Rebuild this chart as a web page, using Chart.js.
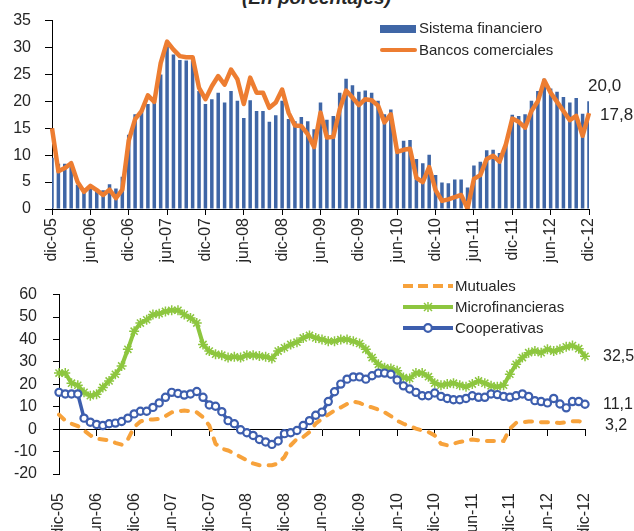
<!DOCTYPE html>
<html>
<head>
<meta charset="utf-8">
<script src="https://cdn.jsdelivr.net/npm/chart.js@4.4.1/dist/chart.umd.min.js"></script>
<style>
  body { margin: 0; background: #fff; width: 634px; height: 531px; overflow: hidden; position: relative;
         font-family: "Liberation Sans", Arial, sans-serif; color: #262626; }
  .chartbox { position: absolute; left: 0; width: 634px; }
  .t { position: absolute; white-space: nowrap; font-size: 15px; line-height: 16px; }
  .v { position: absolute; white-space: nowrap; font-size: 16px; line-height: 16px; }
  .sym { position: absolute; }
</style>
</head>
<body>
<div class="t" style="left:242px;top:-12px;font-size:19px;line-height:19px;font-weight:bold;font-style:italic;">(En porcentajes)</div>

<div class="chartbox" style="top:-3px;height:283px;"><canvas id="chartTop" width="634" height="283"></canvas></div>
<div class="chartbox" style="top:269px;height:262px;"><canvas id="chartBottom" width="634" height="262"></canvas></div>

<!-- leyenda superior -->
<div class="sym" style="left:380px;top:25px;width:36px;height:8px;background:#3F66A6;"></div>
<div class="t" style="left:419px;top:20px;">Sistema financiero</div>
<div class="sym" style="left:380px;top:48px;width:37px;height:4px;background:#ED7D31;border-radius:2px;"></div>
<div class="t" style="left:419px;top:42px;">Bancos comerciales</div>
<div class="v" style="left:588px;top:78px;font-size:17px;">20,0</div>
<div class="v" style="left:600px;top:107px;font-size:17px;">17,8</div>

<!-- leyenda inferior -->
<svg class="sym" style="left:401px;top:280px;" width="54" height="12">
  <line x1="2" y1="6" x2="52" y2="6" stroke="#F7A23B" stroke-width="4" stroke-dasharray="10 5"/>
</svg>
<div class="t" style="left:455px;top:278px;">Mutuales</div>
<svg class="sym" style="left:401px;top:301px;" width="54" height="12">
  <line x1="2" y1="6" x2="52" y2="6" stroke="#8DC63F" stroke-width="4"/>
  <path d="M23 2 L31 10 M31 2 L23 10 M27 1 L27 11" stroke="#8DC63F" stroke-width="1.5"/>
</svg>
<div class="t" style="left:455px;top:299px;">Microfinancieras</div>
<svg class="sym" style="left:401px;top:322px;" width="54" height="12">
  <line x1="2" y1="6" x2="52" y2="6" stroke="#3D5EAE" stroke-width="4"/>
  <circle cx="27" cy="6" r="3.8" fill="#fff" stroke="#3D5EAE" stroke-width="2.2"/>
</svg>
<div class="t" style="left:455px;top:320px;">Cooperativas</div>
<div class="v" style="left:603px;top:348px;">32,5</div>
<div class="v" style="left:603px;top:396px;">11,1</div>
<div class="v" style="left:605px;top:417px;">3,2</div>

<script>
const meses = ['ene', 'feb', 'mar', 'abr', 'may', 'jun', 'jul', 'ago', 'sep', 'oct', 'nov', 'dic'];
const categorias = [];
for (let i = 0; i < 85; i++) {
    const m = (11 + i) % 12;
    const a = 5 + Math.floor((11 + i) / 12);
    categorias.push(meses[m] + '-' + String(a).padStart(2, '0'));
}

// Panel superior (en %)
const sistemaFinanciero = [9.5, 8.4, 8.4, 8.8, 4.5, 3.5, 4.2, 3.6, 3.5, 4.6, 3.8, 6.0,
    13.8, 17.6, 18.2, 19.5, 20.1, 25.0, 30.2, 28.7, 27.7, 27.6, 27.6, 21.9,
    19.5, 20.4, 21.6, 19.8, 21.9, 20.1, 16.9, 20.2, 18.2, 18.2, 16.2, 17.4,
    20.1, 16.7, 16.3, 17.1, 16.3, 14.8, 19.8, 16.6, 17.3, 21.6, 24.2, 23.0,
    21.8, 22.0, 21.6, 20.1, 17.6, 18.5, 10.9, 12.7, 12.8, 9.3, 8.5, 10.1,
    6.3, 4.9, 4.8, 5.5, 5.5, 4.0, 8.1, 8.8, 10.9, 11.0, 10.4, 12.0,
    17.5, 17.3, 17.6, 20.1, 21.9, 24.2, 22.4, 21.8, 20.8, 19.8, 20.6, 17.7, 20.0];
const bancosComerciales = [15.0, 7.0, 7.6, 8.5, 5.0, 3.2, 4.3, 3.5, 2.6, 3.6, 2.0, 3.6,
    12.7, 16.7, 18.2, 21.1, 19.9, 27.1, 31.1, 29.6, 28.4, 28.2, 28.2, 22.5,
    20.4, 22.8, 24.7, 23.1, 25.9, 24.1, 19.5, 24.4, 21.6, 21.6, 18.8, 19.8,
    22.2, 17.9, 15.5, 15.4, 13.9, 11.5, 17.9, 13.3, 13.4, 18.5, 22.0, 20.7,
    19.3, 20.4, 20.2, 19.2, 16.1, 17.6, 10.6, 11.0, 11.2, 5.8, 5.0, 7.8,
    3.5, 1.5, 1.8, 2.2, 2.6, 0.1, 5.6, 6.3, 9.3, 9.9, 8.8, 12.0,
    16.8, 16.2, 15.1, 18.2, 20.0, 23.9, 21.6, 19.9, 18.2, 16.5, 17.3, 13.6, 17.8];

// Panel inferior (en %)
const mutuales = [6.5, 3.8, 2.4, 1.4, -0.6, -2.8, -4.3, -4.6, -5.0, -6.1, -6.9, -4.6,
    0.9, 3.4, 4.3, 4.3, 4.6, 5.8, 7.5, 8.0, 8.3, 8.0, 7.5, 5.3,
    1.6, -6.5, -8.7, -9.5, -10.9, -12.4, -13.9, -15.3, -16.1, -16.1, -16.1, -15.3,
    -12.4, -7.2, -4.3, -3.5, -1.3, 2.5, 4.6, 6.5, 8.3, 9.7, 11.2, 12.3,
    11.7, 10.5, 9.7, 8.7, 7.5, 5.8, 3.8, 2.4, 1.4, 0.2, -0.6, -1.3,
    -2.8, -6.5, -7.2, -6.5, -5.7, -5.3, -4.6, -5.0, -5.3, -5.3, -5.3, -5.3,
    0.2, 2.8, 3.1, 3.4, 3.4, 3.1, 3.1, 3.1, 2.7, 3.1, 3.5, 3.5, 3.2];
const microfinancieras = [25.0, 25.0, 20.5, 19.6, 16.4, 14.9, 15.6, 18.6, 21.5, 24.5, 28.2, 35.6,
    43.7, 47.3, 48.8, 51.1, 51.5, 52.5, 53.0, 53.0, 51.1, 49.6, 47.3, 37.8,
    34.8, 33.4, 33.0, 31.9, 32.3, 31.9, 33.0, 33.0, 32.6, 32.3, 31.5, 34.8,
    36.3, 37.8, 38.8, 40.7, 41.8, 40.7, 40.0, 39.2, 39.2, 40.0, 40.0, 39.2,
    38.2, 35.6, 31.9, 28.9, 27.4, 27.0, 26.0, 23.0, 22.6, 25.0, 25.0, 23.4,
    20.5, 19.6, 20.1, 20.5, 19.6, 18.9, 20.1, 21.5, 20.5, 19.3, 18.9, 19.6,
    24.5, 28.9, 31.9, 34.1, 34.8, 34.1, 35.6, 34.8, 35.6, 36.7, 37.3, 35.9, 32.5];
const cooperativas = [16.4, 15.7, 15.7, 15.7, 4.9, 3.1, 2.1, 1.6, 2.4, 2.7, 3.4, 4.9,
    6.8, 8.0, 8.0, 9.7, 11.7, 14.2, 16.4, 15.9, 15.2, 15.7, 16.8, 14.2,
    10.8, 10.2, 7.8, 3.8, 2.4, -0.3, -1.6, -2.8, -4.6, -5.7, -6.8, -5.3,
    -2.0, -1.6, -0.6, 1.6, 3.8, 6.2, 7.6, 12.3, 16.7, 20.1, 22.3, 23.3,
    23.3, 22.3, 23.8, 25.0, 25.0, 24.5, 21.9, 19.3, 17.9, 16.4, 14.9, 14.9,
    16.1, 14.6, 13.7, 13.1, 13.1, 13.7, 14.9, 14.2, 14.2, 15.7, 15.4, 14.6,
    14.2, 14.9, 15.7, 14.6, 12.7, 12.3, 11.7, 13.7, 11.2, 9.5, 12.3, 12.3, 11.1];

const tickFont = { family: "'Liberation Sans', Arial, sans-serif", size: 16 };
const tickColor = '#262626';
const semestral = c => (c.index % 6 === 0 ? '#000' : 'rgba(0,0,0,0)');
const etiquetaSemestral = (v, i) => (i % 6 === 0 ? categorias[i] : '');

new Chart(document.getElementById('chartTop'), {
    type: 'bar',
    data: {
        labels: categorias,
        datasets: [
            {
                type: 'line',
                label: 'Bancos comerciales',
                data: bancosComerciales,
                borderColor: '#ED7D31',
                borderWidth: 4.5,
                borderJoinStyle: 'round',
                pointRadius: 0,
                tension: 0,
                order: 1
            },
            {
                type: 'bar',
                label: 'Sistema financiero',
                data: sistemaFinanciero,
                backgroundColor: '#3F66A6',
                barPercentage: 0.55,
                categoryPercentage: 1,
                order: 2
            }
        ]
    },
    options: {
        responsive: false,
        animation: false,
        layout: { padding: { top: 16, right: 45, left: 0, bottom: 0 } },
        plugins: { legend: { display: false }, tooltip: { enabled: false } },
        scales: {
            x: {
                offset: false,
                grid: { offset: false, drawOnChartArea: false, tickLength: 6, tickColor: semestral },
                border: { color: '#000' },
                ticks: { autoSkip: false, minRotation: 90, maxRotation: 90, padding: 3,
                         font: tickFont, color: tickColor, callback: etiquetaSemestral },
                afterFit: s => { s.height = 71; }
            },
            y: {
                min: 0,
                max: 35,
                grid: { drawOnChartArea: false, tickLength: 7, tickColor: '#000' },
                border: { color: '#000' },
                ticks: { stepSize: 5, autoSkip: false, padding: 14, font: tickFont, color: tickColor },
                afterFit: s => { s.width = 52; }
            }
        }
    }
});

new Chart(document.getElementById('chartBottom'), {
    type: 'line',
    data: {
        labels: categorias,
        datasets: [
            {
                label: 'Cooperativas',
                data: cooperativas,
                xAxisID: 'x',
                borderColor: '#3D5EAE',
                borderWidth: 3.5,
                pointStyle: 'circle',
                pointRadius: 3.6,
                pointBorderWidth: 2.2,
                pointBackgroundColor: '#fff',
                pointBorderColor: '#3D5EAE',
                tension: 0,
                order: 1
            },
            {
                label: 'Microfinancieras',
                data: microfinancieras,
                xAxisID: 'x',
                borderColor: '#8DC63F',
                borderWidth: 4,
                pointStyle: 'star',
                pointRadius: 5,
                pointBorderWidth: 1.5,
                pointBorderColor: '#8DC63F',
                pointBackgroundColor: '#8DC63F',
                tension: 0,
                order: 2
            },
            {
                label: 'Mutuales',
                data: mutuales,
                xAxisID: 'x',
                borderColor: '#F7A23B',
                borderWidth: 4,
                borderDash: [7, 9],
                borderCapStyle: 'round',
                pointRadius: 0,
                tension: 0,
                order: 3
            }
        ]
    },
    options: {
        responsive: false,
        animation: false,
        layout: { padding: { top: 2, right: 49, left: 0, bottom: 0 } },
        plugins: { legend: { display: false }, tooltip: { enabled: false } },
        scales: {
            x: {
                position: 'bottom',
                offset: false,
                grid: { display: false },
                border: { display: false },
                ticks: { autoSkip: false, minRotation: 90, maxRotation: 90, padding: 11,
                         font: tickFont, color: tickColor, callback: etiquetaSemestral },
                afterFit: s => { s.height = 57; }
            },
            xz: {
                type: 'category',
                axis: 'x',
                position: { y: 0 },
                offset: false,
                grid: { offset: false, drawOnChartArea: false, tickLength: 6, tickColor: semestral },
                border: { color: '#000' },
                ticks: { display: false, autoSkip: false }
            },
            y: {
                min: -20,
                max: 60,
                grid: { drawOnChartArea: false, tickLength: 6, tickColor: '#000' },
                border: { color: '#000' },
                ticks: { stepSize: 10, autoSkip: false, padding: 16, font: tickFont, color: tickColor },
                afterFit: s => { s.width = 59; }
            }
        }
    }
});
</script>
</body>
</html>
